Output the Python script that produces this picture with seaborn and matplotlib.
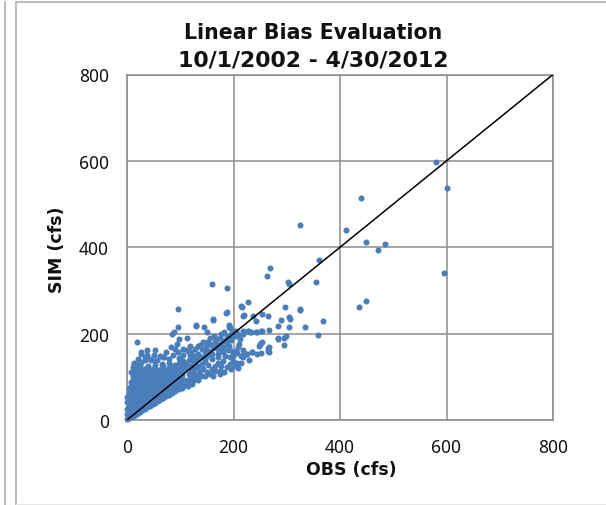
import matplotlib
matplotlib.use("Agg")
import matplotlib.pyplot as plt
from matplotlib.lines import Line2D
import seaborn as sns
import pandas as pd

TITLE_LINE_1 = "Linear Bias Evaluation"
TITLE_LINE_2 = "10/1/2002 - 4/30/2012"
X_LABEL = "OBS (cfs)"
Y_LABEL = "SIM (cfs)"
TICKS = [0, 200, 400, 600, 800]
LINE_OBS = [0, 800]
LINE_SIM = [0, 800]

outlier_pairs = [
    (601,538),(439,513),(324,451),(412,441),(449,413),(484,407),(472,393),(361,370),(595,340),(580,598),
    (268,353),(263,333),(302,320),(305,315),(354,320),(160,316),(188,306),(228,274),(216,262),(297,262),
    (324,257),(325,254),(436,261),(448,275),(187,251),(254,245),(265,240),(220,243),(218,240),(304,238),
    (307,234),(289,232),(368,229),(161,235),(161,231),(284,217),(304,215),(334,215),(145,216),(191,221),
    (192,216),(359,196),(266,208),(252,207),(244,204),(227,205),(232,203),(217,205),(218,200),(299,194),
    (295,190),(284,187),(294,174),(252,179),(248,172),(210,176),(265,167),(266,157),(218,163),(226,153),
    (218,150),(206,155),(235,157),(244,153),(251,156),(96,258),(19,180),(37,162),(26,152),(14,129),
    (95,216),(88,204),(85,200),(98,188),(94,177),(113,189),(130,218),(151,203),(186,248),(215,263),
    (237,241),(243,230),(129,221),(193,214),(231,203),(253,207),(283,189),(253,180),(249,176),(266,168),
    (265,159),(234,157),(224,153),(229,140),(206,133),(209,120),(243,204),(228,205),
]

band_pairs = [
    (182,203),(177,199),(199,207),(196,199),(187,195),(193,191),(202,195),(174,191),(168,187),(181,184),
    (156,191),(143,180),(134,172),(156,176),(165,180),(174,176),(181,168),(187,176),(127,164),(140,164),
    (149,168),(162,166),(171,164),(181,157),(121,157),(134,153),(146,157),(156,153),(171,153),(184,149),
    (181,137),(193,145),(199,149),(121,141),(134,141),(146,137),(159,141),(171,133),(124,130),(140,130),
    (165,126),(177,126),(187,122),(174,114),(165,114),(156,106),(162,103),(143,118),(137,114),(131,106),
    (124,110),(121,99),(174,106),(146,101),(193,130),(199,137),(193,122),(204,159),(215,149),(218,145),
    (128,149),(118,172),(112,162),(137,174),(126,149),(115,160),(106,137),(98,132),(96,157),(87,150),
    (74,157),(84,126),(78,133),(65,130),(52,127),(40,126),(27,135),(13,132),(51,150),(37,150),(26,157),
    (52,162),(106,150),(116,140),(110,120),(116,106),(120,118),(112,92),(106,78),(118,88),(126,92),(132,98),
    (108,84),(114,78),(122,84),(128,100),(134,92),(139,103),(150,112),(152,128),(160,152),(148,146),
    (170,146),(190,162),(176,170),(186,186),(192,172),(163,194),(150,180),(120,125),(127,120),(133,125),
    (110,130),(104,125),(118,150),(105,165),(90,165),(82,170),(70,145),(62,148),(45,140),(33,146),(20,141),
    (8,112),(12,122),(18,127),(24,128),(56,138),(100,142),(128,136),(140,145),(152,160),(168,172),(196,186),
    (205,205),(210,196),(212,188),(160,118),(182,110),(196,118),(204,124),(215,132),(198,160),(208,168),
]

dense_obs = [0, 3, 7, 11, 15, 19, 24, 29, 33, 38, 43, 48, 53, 58, 63, 68, 74, 79, 85, 91, 97, 103]
dense_sim = [
    [2, 13, 25, 41, 54],
    [4, 12, 21, 32, 43, 52, 63, 74],
    [6, 15, 26, 34, 45, 56, 67, 78, 88],
    [9, 18, 28, 37, 47, 59, 70, 81, 92, 103],
    [12, 20, 31, 40, 51, 61, 72, 83, 94, 108, 119],
    [15, 24, 33, 43, 54, 64, 76, 85, 97, 107],
    [19, 28, 38, 47, 58, 68, 79, 90, 99, 110, 122],
    [22, 31, 41, 52, 62, 73, 83, 94, 104, 114],
    [26, 34, 45, 55, 66, 76, 87, 98, 108, 118, 138],
    [29, 38, 48, 59, 69, 80, 90, 101, 111, 120],
    [32, 41, 52, 62, 73, 83, 94, 104, 113, 142],
    [36, 45, 55, 66, 76, 87, 97, 108, 117],
    [40, 49, 59, 69, 80, 90, 101, 110, 120, 136],
    [44, 52, 63, 73, 84, 93, 105, 113],
    [48, 56, 66, 77, 87, 98, 108, 119],
    [51, 60, 70, 81, 91, 102, 112, 124, 146],
    [55, 64, 74, 85, 95, 106, 116],
    [59, 68, 78, 88, 99, 109, 120, 141],
    [63, 72, 82, 92, 103, 112, 122],
    [67, 76, 86, 97, 107, 116, 128],
    [71, 80, 90, 100, 110, 119, 143],
    [75, 84, 94, 104, 115, 126],
]

dense_pairs = [(x, y) for x, ys in zip(dense_obs, dense_sim) for y in ys]
all_pairs = outlier_pairs + band_pairs + dense_pairs
df = pd.DataFrame(all_pairs, columns=["obs", "sim"])
line_df = pd.DataFrame({"obs": LINE_OBS, "sim": LINE_SIM})

sns.set_theme(style="white")
plt.rcParams["font.family"] = ["Noto Sans", "DejaVu Sans"]

W, H = 606, 506
fig = plt.figure(figsize=(W / 100, H / 100), dpi=100, facecolor="white")
L, R, T, B = 127, 553, 75.5, 421
ax = fig.add_axes([L / W, 1 - B / H, (R - L) / W, (B - T) / H])

sns.scatterplot(data=df, x="obs", y="sim", ax=ax, color="#4a7ebb", s=19, linewidth=0, zorder=3, clip_on=False)
sns.lineplot(data=line_df, x="obs", y="sim", ax=ax, color="black", linewidth=1.1, zorder=4, errorbar=None)

ax.set_xlim(0, 800)
ax.set_ylim(0, 800)
ax.set_xticks(TICKS)
ax.set_yticks(TICKS)
ax.grid(True, color="#8c8c8c", linewidth=1.1)
ax.set_axisbelow(True)
for s in ax.spines.values():
    s.set_color("#8c8c8c")
    s.set_linewidth(1.1)
ax.tick_params(length=0, labelsize=12.5, colors="#111111")
ax.tick_params(axis="x", pad=13)
ax.tick_params(axis="y", pad=13)
ax.set_xlabel("")
ax.set_ylabel("")
bold = dict(fontweight="bold", family="DejaVu Sans", color="#111111", ha="center", va="center")
fig.text(351 / W, 1 - 470 / H, X_LABEL, fontsize=12.5, **bold)
fig.text(57 / W, 1 - 250 / H, Y_LABEL, fontsize=12.5, rotation=90, **bold)
fig.text(313 / W, 1 - 33 / H, TITLE_LINE_1, fontsize=14.8, **bold)
fig.text(313 / W, 1 - 60 / H, TITLE_LINE_2, fontsize=15.8, **bold)

frame = "#b0b0b0"
fig.add_artist(Line2D([5 / W, 5 / W], [0, 1 - 3 / H], color=frame, lw=1.2))
fig.add_artist(Line2D([16 / W, 16 / W], [0, 1 - 3 / H], color=frame, lw=1.2))
fig.add_artist(Line2D([16 / W, 1], [1 - 3 / H, 1 - 3 / H], color=frame, lw=1.2))
fig.add_artist(Line2D([16 / W, 1], [1 - 505 / H, 1 - 505 / H], color="#e6e6e6", lw=1))

fig.savefig("out.png", dpi=100)
